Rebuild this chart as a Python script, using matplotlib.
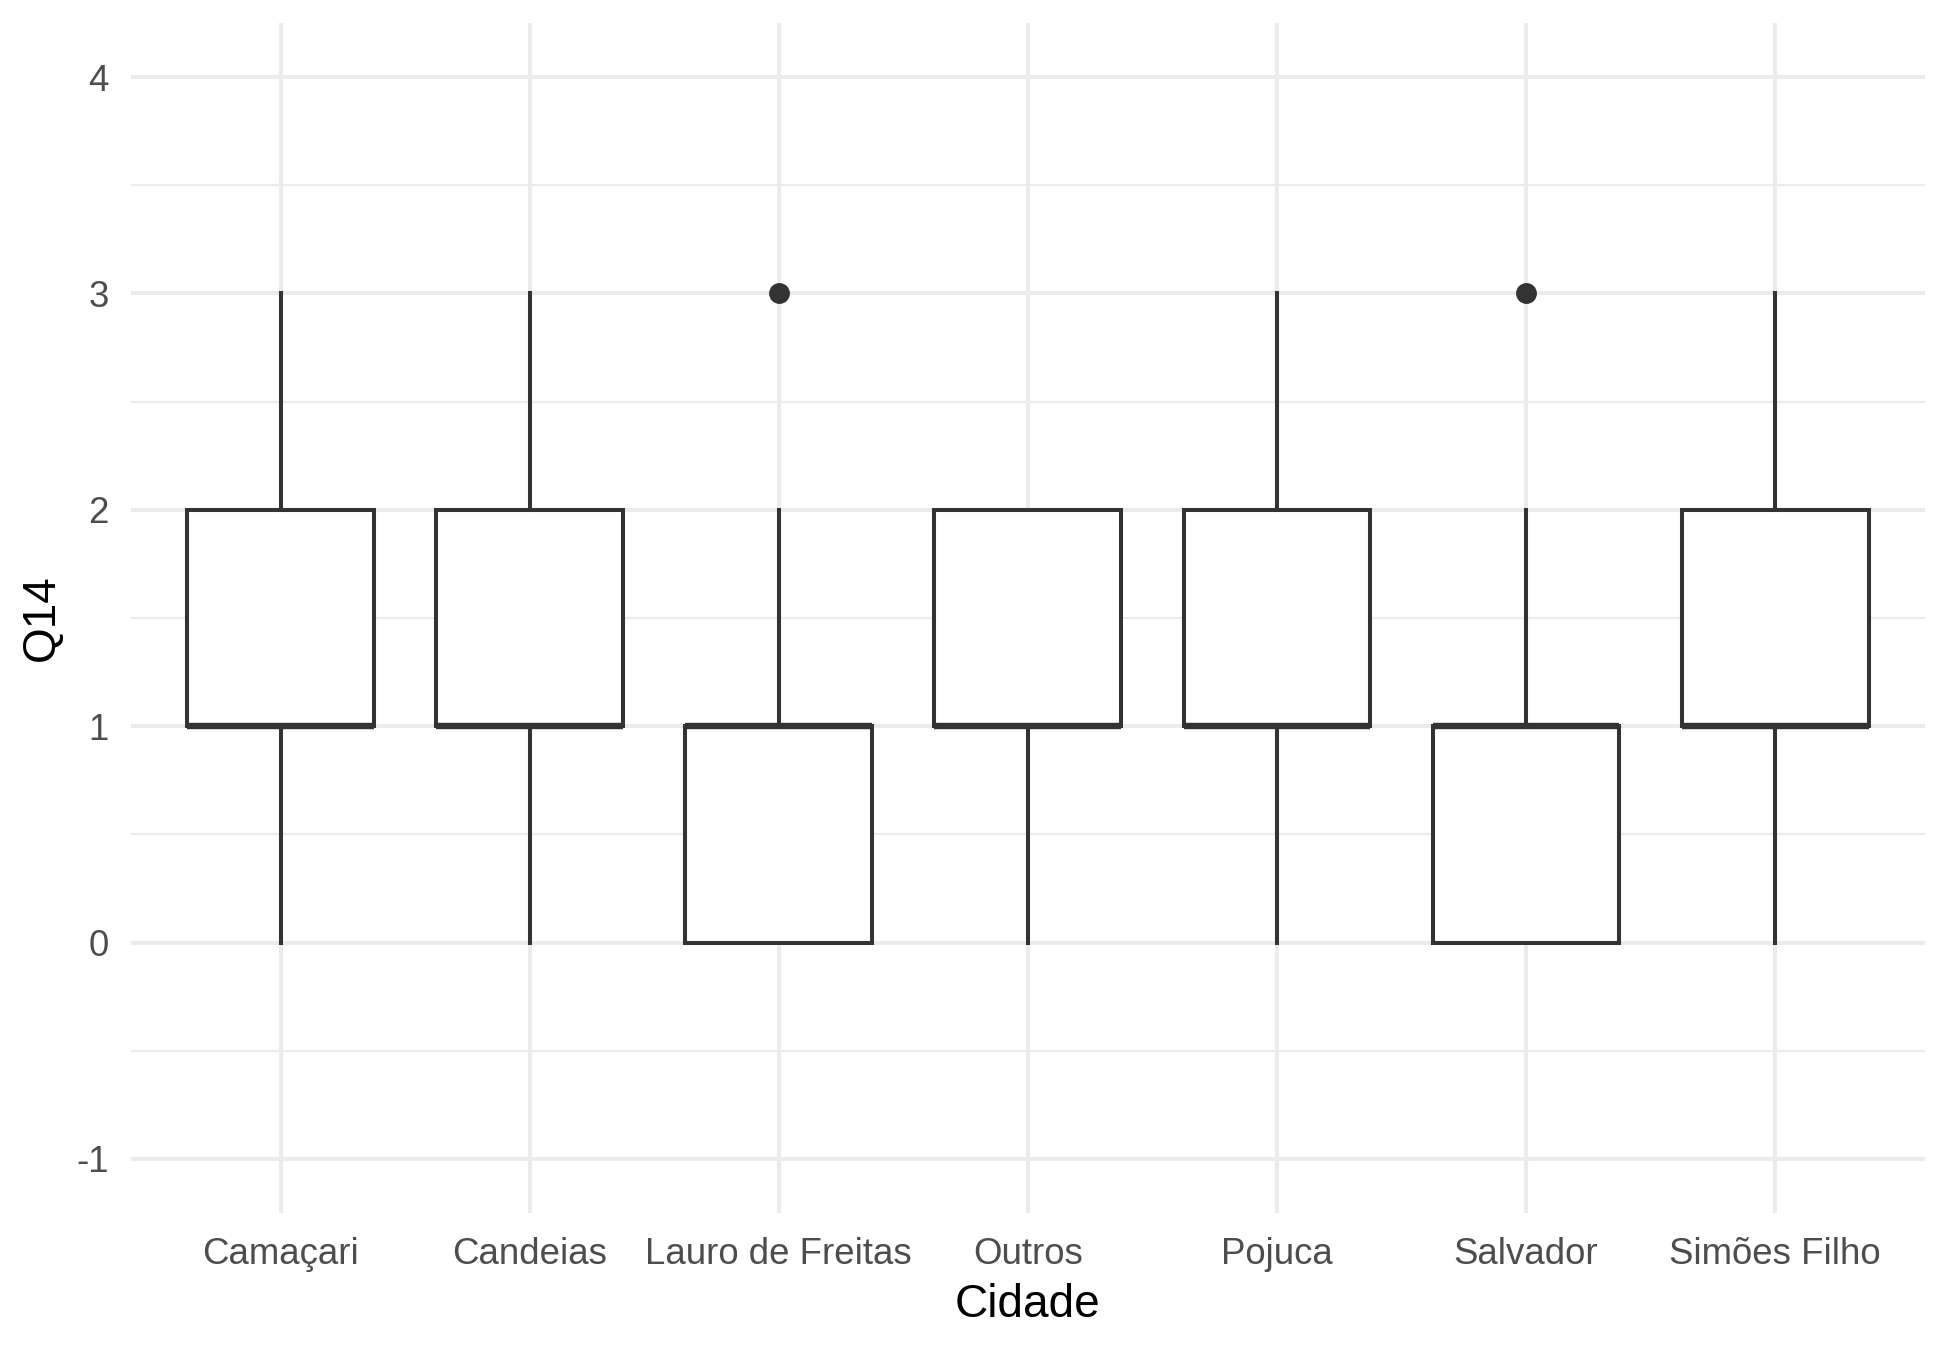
"""Boxplot of Q14 by Cidade, ggplot-minimal look."""

import matplotlib

matplotlib.use("Agg")
import matplotlib.pyplot as plt
from matplotlib.ticker import MultipleLocator

cidades = ["Camaçari", "Candeias", "Lauro de Freitas", "Outros", "Pojuca", "Salvador", "Simões Filho"]
whisker_low = [0, 0, 0, 0, 0, 0, 0]
q1 = [1, 1, 0, 1, 1, 0, 1]
medians = [1, 1, 1, 1, 1, 1, 1]
q3 = [2, 2, 1, 2, 2, 1, 2]
whisker_high = [3, 3, 2, 2, 3, 2, 3]
outliers = [[], [], [3], [], [], [3], []]

plt.rcParams["font.family"] = ["Liberation Sans", "DejaVu Sans"]
plt.rcParams["axes.unicode_minus"] = False

LINE = "#333333"
GRID = "#EBEBEB"

stats = []
for name, lo, a, m, b, hi, fl in zip(cidades, whisker_low, q1, medians, q3, whisker_high, outliers):
    stats.append({"label": name, "whislo": lo, "q1": a, "med": m, "q3": b, "whishi": hi, "fliers": fl})

fig = plt.figure(figsize=(19.5, 13.49), dpi=100)
ax = fig.add_axes([0.0672, 0.1008, 0.9198, 0.8822])

positions = list(range(1, len(cidades) + 1))
ax.bxp(
    stats,
    positions=positions,
    widths=0.75,
    showcaps=False,
    patch_artist=True,
    boxprops=dict(facecolor="white", edgecolor=LINE, linewidth=2.9),
    whiskerprops=dict(color=LINE, linewidth=2.9),
    medianprops=dict(color=LINE, linewidth=4.6, solid_capstyle="butt"),
    flierprops=dict(marker="o", markerfacecolor=LINE, markeredgecolor=LINE, markersize=14),
    zorder=3,
)

ax.set_xlim(0.4, len(cidades) + 0.6)
ax.set_ylim(-1.25, 4.25)
ax.set_xticks(positions)
ax.set_xticklabels(cidades)
ax.yaxis.set_major_locator(MultipleLocator(1))
ax.yaxis.set_minor_locator(MultipleLocator(0.5))
ax.set_yticks([-1, 0, 1, 2, 3, 4])

ax.grid(True, which="major", color=GRID, linewidth=2.9, zorder=0)
ax.grid(True, which="minor", axis="y", color=GRID, linewidth=1.6, zorder=0)
ax.set_axisbelow(True)
for side in ax.spines.values():
    side.set_visible(False)

ax.tick_params(axis="both", which="both", length=0, labelsize=26.4, labelcolor="#4D4D4D")
ax.tick_params(axis="x", pad=17)
ax.tick_params(axis="y", pad=16)

ax.set_xlabel("Cidade", fontsize=33, color="black", labelpad=8)
ax.set_ylabel("Q14", fontsize=33, color="black", labelpad=9)

fig.savefig("out.png", dpi=100, facecolor="white")
